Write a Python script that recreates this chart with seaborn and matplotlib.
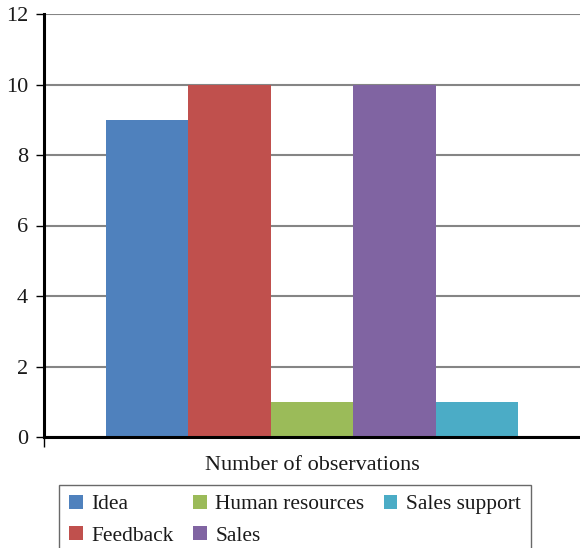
import matplotlib
matplotlib.use("Agg")
import matplotlib.pyplot as plt
import seaborn as sns
import pandas as pd

categories = ["Idea", "Feedback", "Human resources", "Sales", "Sales support"]
values = [9, 10, 1, 10, 1]
colors = ["#4F81BD", "#C0504D", "#9BBB59", "#8064A2", "#4BACC6"]
group_label = "Number of observations"
yticks = [0, 2, 4, 6, 8, 10, 12]

sns.set_theme(style="white")
plt.rcParams["font.family"] = ["Liberation Serif", "DejaVu Serif"]

df = pd.DataFrame({"group": [group_label] * len(categories),
                   "category": categories, "value": values})

fig = plt.figure(figsize=(5.8, 5.48), dpi=100)
ax = fig.add_axes([44 / 580, 1 - 437 / 548, 1 - 44 / 580, (437 - 14) / 548])

sns.barplot(data=df, x="group", y="value", hue="category", hue_order=categories,
            palette=colors, width=0.77, saturation=1, ax=ax, legend=True,
            linewidth=0, edgecolor="none")

ax.set_xlim(-0.5, 0.5)
ax.set_ylim(0, 12)
ax.set_yticks(yticks)
ax.set_yticklabels([str(t) for t in yticks], fontsize=16)
ax.yaxis.grid(True, color="#858585", linewidth=1.5)
ax.set_axisbelow(True)
for s in ["top", "right"]:
    ax.spines[s].set_visible(False)
for s in ["left", "bottom"]:
    ax.spines[s].set_color("black")
    ax.spines[s].set_linewidth(2.2)
ax.tick_params(axis="y", which="major", left=True, length=6, width=1, color="black", pad=5.5, labelcolor="#1a1a1a")
ax.set_xticks([-0.5])
ax.set_xticklabels([""])
ax.tick_params(axis="x", bottom=True, length=7, width=1, color="black")
ax.set_xlabel(group_label, fontsize=16, labelpad=3, color="#1a1a1a")
ax.set_ylabel("")

handles, labels = ax.get_legend_handles_labels()
ax.get_legend().remove()
leg = fig.legend(handles, labels, loc="upper left",
                 bbox_to_anchor=(59 / 580, 1 - 485 / 548), ncol=3,
                 fontsize=15.4, frameon=True, fancybox=False,
                 edgecolor="#444444", handlelength=0.65, handleheight=0.65,
                 handletextpad=0.4, columnspacing=0.9, borderpad=0.45,
                 labelspacing=0.55, borderaxespad=0)
leg.get_frame().set_linewidth(1)
for t in leg.get_texts():
    t.set_color("#1a1a1a")

fig.savefig("out.png", dpi=100)
